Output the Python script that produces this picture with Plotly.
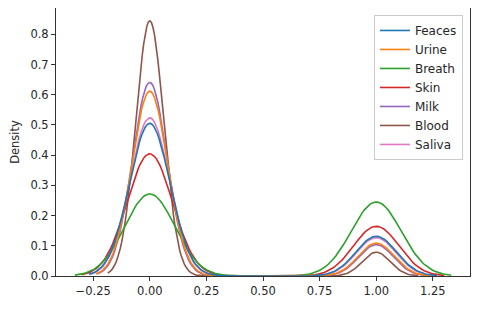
import numpy as np
import plotly.graph_objects as go

# Data: binary samples per category (count of samples, count of 1s)
categories = ["Feaces", "Urine", "Breath", "Skin", "Milk", "Blood", "Saliva"]
n_samples = [1900, 1900, 1900, 1900, 1900, 1900, 1900]
n_positive = [393, 287, 901, 549, 265, 162, 371]
colors = ["#1f77b4", "#ff7f0e", "#2ca02c", "#d62728", "#9467bd", "#8c564b", "#e377c2"]

x_ticks = [-0.25, 0.0, 0.25, 0.5, 0.75, 1.0, 1.25]
x_tick_labels = ["\u22120.25", "0.00", "0.25", "0.50", "0.75", "1.00", "1.25"]
y_ticks = [0.0, 0.1, 0.2, 0.3, 0.4, 0.5, 0.6, 0.7, 0.8]
y_tick_labels = ["0.0", "0.1", "0.2", "0.3", "0.4", "0.5", "0.6", "0.7", "0.8"]

total = sum(n_samples)
cut, gridsize = 3, 200


def kde(n, k):
    """Gaussian KDE (Scott's rule, common norm) for n binary samples with k ones."""
    q = k / n
    var = q * (1 - q) * n / (n - 1)
    bw = n ** (-1 / 5) * np.sqrt(var)
    x = np.linspace(0 - cut * bw, 1 + cut * bw, gridsize)
    norm = 1 / (bw * np.sqrt(2 * np.pi))
    dens = ((n - k) * np.exp(-0.5 * (x / bw) ** 2) + k * np.exp(-0.5 * ((x - 1) / bw) ** 2)) * norm / n
    return x, dens * n / total


fig = go.Figure()
all_x = []
max_y = 0
for i in reversed(range(len(categories))):
    x, y = kde(n_samples[i], n_positive[i])
    all_x.extend([x.min(), x.max()])
    max_y = max(max_y, y.max())
    fig.add_trace(go.Scatter(
        x=x, y=y, mode="lines", name=categories[i],
        line=dict(color=colors[i], width=1.6),
        legendrank=i + 1,
    ))

xmin, xmax = min(all_x), max(all_x)
pad = 0.05 * (xmax - xmin)

font = dict(family="DejaVu Sans", size=11.5, color="#262626")
fig.update_layout(
    width=472, height=301,
    margin=dict(l=48, r=10, t=0, b=33, autoexpand=False),
    paper_bgcolor="white", plot_bgcolor="white",
    font=font,
    showlegend=True,
    legend=dict(
        x=0.983, y=0.974, xanchor="right", yanchor="top",
        bgcolor="rgba(255,255,255,0.8)", bordercolor="#cccccc", borderwidth=1,
        font=dict(family="DejaVu Sans", size=12, color="#262626"),
        traceorder="normal",
    ),
)
fig.update_xaxes(
    range=[xmin - pad, xmax + pad],
    tickvals=x_ticks, ticktext=x_tick_labels,
    showgrid=False, zeroline=False, automargin=False,
    showline=True, linecolor="#333333", linewidth=1, mirror=True,
    ticks="outside", ticklen=4, tickwidth=1, tickcolor="#333333",
)
fig.update_yaxes(
    range=[0, max_y * 1.05],
    tickvals=y_ticks, ticktext=y_tick_labels,
    showgrid=False, zeroline=False, automargin=False,
    showline=True, linecolor="#333333", linewidth=1, mirror=True,
    ticks="outside", ticklen=4, tickwidth=1, tickcolor="#333333",
    title=dict(text="Density", font=font, standoff=8),
)

fig.write_html("out.html")
